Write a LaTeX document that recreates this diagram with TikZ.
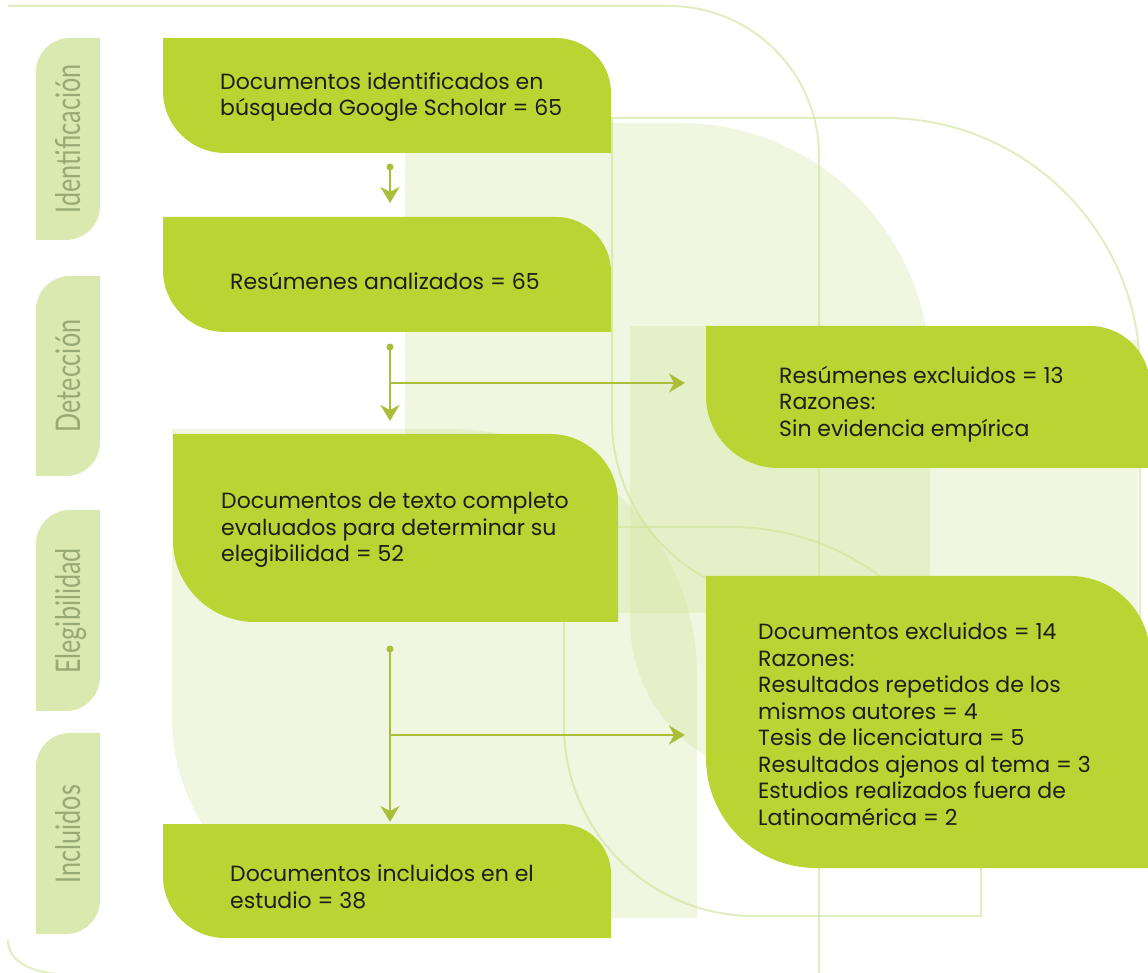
\documentclass[tikz,border=0pt]{standalone}
\usepackage{fontspec}
\setmainfont{Poppins}
\newfontfamily\sidefont{Lato}[FakeStretch=0.74]
\usetikzlibrary{arrows.meta}
\definecolor{leafgreen}{RGB}{186,212,51}
\definecolor{tabgreen}{RGB}{218,233,176}
\definecolor{tabink}{RGB}{152,170,116}
\definecolor{flowgreen}{RGB}{170,190,58}
\definecolor{washgreen}{RGB}{205,226,150}
\definecolor{ink}{RGB}{30,30,22}

\begin{document}
\begin{tikzpicture}[x=1pt,y=1pt,
	wash/.style = {fill=washgreen, fill opacity=0.3},
	trace/.style = {draw=washgreen, draw opacity=0.6, line width=2pt},
	leaf/.style = {fill=leafgreen},
	tab/.style = {fill=tabgreen},
	txt/.style = {anchor=west, align=left, inner sep=0pt, text=ink, font=\fontsize{22}{26.5}\selectfont},
	tabtxt/.style = {anchor=base, rotate=90, inner sep=0pt, text=tabink, font=\sidefont\fontsize{34}{34}\selectfont},
	flow/.style = {draw=flowgreen, line width=2.5pt, -{Stealth[length=16pt,width=19pt,inset=5pt]}},
	dot/.style = {fill=flowgreen}]
	\useasboundingbox (0,0) rectangle (1148,972);

	% background wash
	\path[wash] (405,849) -- (680,849) arc[start angle=90,end angle=0,radius=250] -- (930,359) -- (405,359) -- cycle;
	\path[wash] (630,646) rectangle (931,359);
	\path[wash] (931,632) rectangle (1138,359);
	\path[wash] (172,543) -- (451,543) arc[start angle=90,end angle=0,radius=246] -- (697,54) -- (372,54) arc[start angle=270,end angle=180,radius=200] -- cycle;
	\path[wash] (630,359) -- (1000,359) -- (1000,192) -- (790,192) arc[start angle=270,end angle=180,radius=160] -- cycle;
	\draw[trace] (8,966) -- (669,966) arc[start angle=90,end angle=0,radius=150] -- (819,-5);
	\draw[trace] (8,32) .. controls (8,12) and (28,0) .. (60,-2);
	\draw[trace] (612,552) -- (612,854) -- (885,854) arc[start angle=90,end angle=0,radius=255] -- (1140,340);
	\draw[trace] (612,552) arc[start angle=180,end angle=270,radius=180] -- (900,372);
	\draw[trace] (564,445) -- (731,445) arc[start angle=90,end angle=0,radius=250] -- (981,56) -- (754,56) arc[start angle=270,end angle=180,radius=190] -- cycle;

	% phase tabs
	\fill[tab] (36,900) arc[start angle=180,end angle=90,radius=34] -- (100,934) -- (100,766) arc[start angle=0,end angle=-90,radius=34] -- (36,732) -- cycle;
	\fill[tab] (36,662) arc[start angle=180,end angle=90,radius=34] -- (100,696) -- (100,530) arc[start angle=0,end angle=-90,radius=34] -- (36,496) -- cycle;
	\fill[tab] (36,428) arc[start angle=180,end angle=90,radius=34] -- (100,462) -- (100,295) arc[start angle=0,end angle=-90,radius=34] -- (36,261) -- cycle;
	\fill[tab] (36,205) arc[start angle=180,end angle=90,radius=34] -- (100,239) -- (100,72) arc[start angle=0,end angle=-90,radius=34] -- (36,38) -- cycle;
	\node[tabtxt] (tabid) at (80,833) {Identificación};
	\node[tabtxt] (tabdet) at (80,596) {Detección};
	\node[tabtxt] (tabeleg) at (80,361) {Elegibilidad};
	\node[tabtxt] (tabinc) at (80,138) {Incluidos};

	% boxes
	\fill[leaf] (163,934) -- (556,934) arc[start angle=90,end angle=0,radius=55] -- (611,819) -- (225,819) arc[start angle=270,end angle=180,radius=62] -- cycle;
	\fill[leaf] (163,755) -- (556,755) arc[start angle=90,end angle=0,radius=55] -- (611,640) -- (225,640) arc[start angle=270,end angle=180,radius=62] -- cycle;
	\fill[leaf] (173,538) -- (550,538) arc[start angle=90,end angle=0,radius=68] -- (618,350) -- (255,350) arc[start angle=270,end angle=180,radius=82] -- cycle;
	\fill[leaf] (706,646) -- (1090,646) arc[start angle=90,end angle=0,radius=60] -- (1150,504) -- (778,504) arc[start angle=270,end angle=180,radius=72] -- cycle;
	\fill[leaf] (706,396) -- (1070,396) arc[start angle=90,end angle=0,radius=80] -- (1150,104) -- (816,104) arc[start angle=270,end angle=180,radius=110] -- cycle;
	\fill[leaf] (163,148) -- (561,148) arc[start angle=90,end angle=0,radius=50] -- (611,34) -- (225,34) arc[start angle=270,end angle=180,radius=62] -- cycle;

	\node[txt] (idbox) at (220,875) {Documentos identificados en\\búsqueda Google Scholar = 65};
	\node[txt] (absbox) at (230,691) {Resúmenes analizados = 65};
	\node[txt] (fullbox) at (221,442) {Documentos de texto completo\\evaluados para determinar su\\elegibilidad = 52};
	\node[txt] (exabs) at (779,568) {Resúmenes excluidos = 13\\Razones:\\Sin evidencia empírica};
	\node[txt] (exdoc) at (758,248) {Documentos excluidos = 14\\Razones:\\Resultados repetidos de los\\mismos autores = 4\\Tesis de licenciatura = 5\\Resultados ajenos al tema = 3\\Estudios realizados fuera de\\Latinoamérica = 2};
	\node[txt] (incbox) at (230,85) {Documentos incluidos en el\\estudio = 38};

	% connectors
	\coordinate (d1) at (390,805);
	\coordinate (t1) at (390,769);
	\coordinate (d2) at (390,625);
	\coordinate (j2) at (390,589);
	\coordinate (t2) at (390,551);
	\coordinate (h2) at (685,589);
	\coordinate (d3) at (390,323);
	\coordinate (j3) at (390,237);
	\coordinate (t3) at (390,150);
	\coordinate (h3) at (685,237);
	\fill[dot] (d1) circle (3.5pt);
	\fill[dot] (d2) circle (3.5pt);
	\fill[dot] (d3) circle (3.5pt);
	\draw[flow] (d1) -- (t1);
	\draw[flow] (d2) -- (t2);
	\draw[flow] (j2) -- (h2);
	\draw[flow] (d3) -- (t3);
	\draw[flow] (j3) -- (h3);
\end{tikzpicture}
\end{document}
